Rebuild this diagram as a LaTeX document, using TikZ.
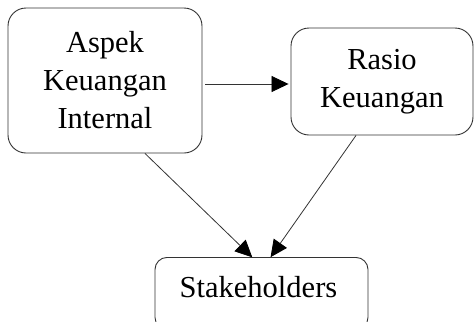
\documentclass[tikz,border=0pt]{standalone}
\usepackage{fontspec}
\setmainfont{Liberation Serif}
\usetikzlibrary{arrows.meta}
\definecolor{edgegray}{HTML}{333333}
\begin{document}
\begin{tikzpicture}[x=1pt,y=-1pt,
  box/.style={draw=edgegray,line width=0.9pt,rounded corners=18pt,inner sep=0pt,align=center,
    font=\fontsize{30.5}{38}\selectfont},
  conn/.style={draw=edgegray,line width=0.8pt,-{Triangle[length=17pt,width=16pt,color=black]},shorten >=1pt}]
\useasboundingbox (0,0) rectangle (475,322);
\clip (0,0) rectangle (475,322);
\node[box,minimum width=194pt,minimum height=145pt] (a) at (105,80.5) {Aspek\\Keuangan\\Internal};
\node[box,minimum width=182pt,minimum height=107pt] (r) at (382,81.5) {Rasio\\Keuangan};
\node[box,rounded corners=12pt,minimum width=213pt,minimum height=72pt,anchor=north] (s) at (261.5,257) {};
\node[font=\fontsize{30.5}{38}\selectfont,anchor=base] (st) at (258.5,297) {Stakeholders};
\coordinate (a1) at ([xshift=3pt,yshift=-3.5pt]a.east);
\coordinate (r1) at ([yshift=-2.5pt]r.west);
\draw[conn,shorten >=2pt] (a1) -- (r1);
\coordinate (a2) at ([xshift=40pt]a.south);
\coordinate (s1) at ([xshift=-8.5pt,yshift=-1pt]s.north);
\draw[conn] (a2) -- (s1);
\coordinate (r2) at ([xshift=-26pt]r.south);
\coordinate (s2) at ([xshift=8.5pt,yshift=-1pt]s.north);
\draw[conn] (r2) -- (s2);
\end{tikzpicture}
\end{document}
